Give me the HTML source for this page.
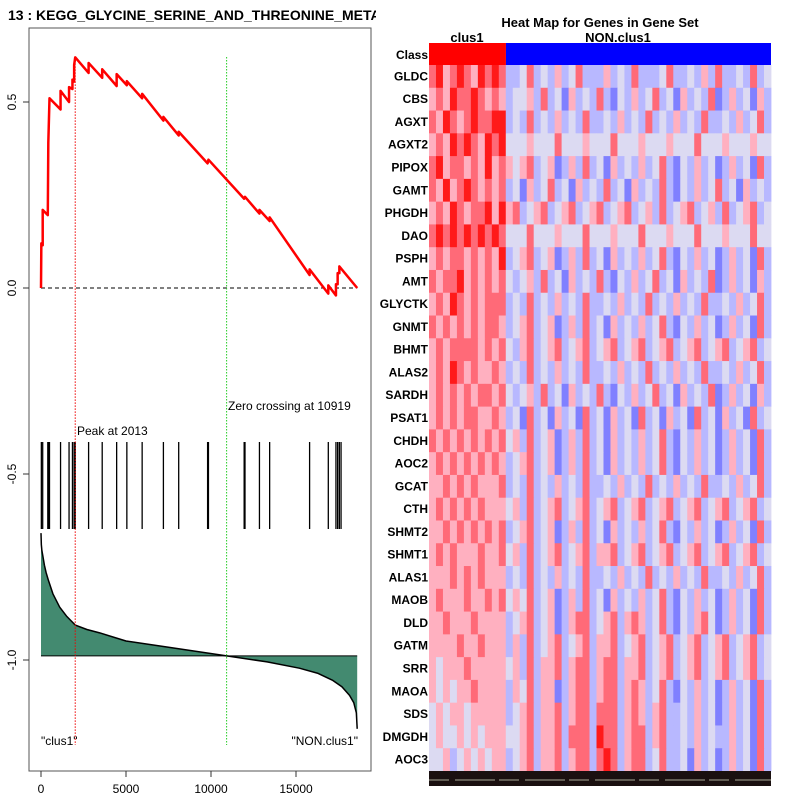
<!DOCTYPE html>
<html><head><meta charset="utf-8">
<style>
html,body{margin:0;padding:0;background:#fff;}
svg{display:block;font-family:"Liberation Sans",sans-serif;}
</style></head><body>
<svg id="chart" width="800" height="800" viewBox="0 0 800 800">
<g id="left"></g>
<g id="right"></g>
<text x="8" y="20" font-size="14" font-weight="bold">13 : KEGG_GLYCINE_SERINE_AND_THREONINE_META</text>
<rect x="376" y="0" width="424" height="40" fill="#fff"/>
<text x="600" y="27" font-size="13" font-weight="bold" text-anchor="middle">Heat Map for Genes in Gene Set</text>
<text x="467" y="42" font-size="13" font-weight="bold" text-anchor="middle">clus1</text>
<text x="618" y="42" font-size="13" font-weight="bold" text-anchor="middle">NON.clus1</text>
</svg>
<script>
// ---- Enrichment data ----
const esX = [0,20,100,100,400,430,500,1150,1150,1650,1650,1850,1850,1950,1950,2013,2800,2800,3600,3600,4450,4450,5050,5050,5950,5950,7200,7200,8100,8100,9800,9850,11950,12000,12850,12850,13450,13450,15800,15800,16900,16900,17350,17350,17450,17450,17550,17550,18600];
const esY = [0,0.12,0.115,0.21,0.196,0.39,0.51,0.48,0.53,0.50,0.54,0.535,0.56,0.555,0.60,0.62,0.578,0.605,0.565,0.588,0.543,0.575,0.545,0.556,0.51,0.522,0.45,0.46,0.41,0.42,0.335,0.345,0.24,0.245,0.20,0.21,0.18,0.19,0.035,0.05,-0.015,0.007,-0.02,0.01,0.01,0.04,0.04,0.058,0];
const hitPositions = [20,100,400,450,500,1150,1650,1850,1950,2013,2800,3600,4450,5050,5950,7200,8100,9800,9850,11950,12000,12850,13450,15800,16900,17350,17450,17550,17650];
const metricX = [0,20,50,100,200,300,430,700,1100,1500,2013,2700,3450,5000,7400,10919,13300,15200,16300,17170,17700,18150,18400,18550,18600];
const metricY = [-0.659,-0.69,-0.705,-0.718,-0.745,-0.765,-0.785,-0.822,-0.858,-0.882,-0.906,-0.918,-0.927,-0.949,-0.965,-0.989,-1.005,-1.022,-1.036,-1.055,-1.072,-1.095,-1.115,-1.142,-1.185];
const metricBase = -0.989;
const xTicks = [0,5000,10000,15000];
const yTicks = [0.0,0.5,-0.5,-1.0];
const peakPos = 2013, zeroCross = 10919;

const NS='http://www.w3.org/2000/svg';
function mk(tag,attrs,parent){const e=document.createElementNS(NS,tag);for(const k in attrs)e.setAttribute(k,attrs[k]);parent.appendChild(e);return e;}
const X = v => 41 + v*0.017;
const Y = v => 288 - v*372;
const L = document.getElementById('left');

let d='M'+X(metricX[0])+','+Y(metricBase);
metricX.forEach((x,i)=>{d+=' L'+X(x)+','+Y(metricY[i]);});
d+=' L'+X(metricX[metricX.length-1])+','+Y(metricBase)+' Z';
let e=mk('path',{d:d,fill:'#438a70',stroke:'none'},L);


let d2='M'+metricX.map((x,i)=>X(x)+','+Y(metricY[i])).join(' L');
e=mk('path',{d:d2,fill:'none',stroke:'#000','stroke-width':1.5,'stroke-linejoin':'round'},L);


e=mk('line',{x1:X(0),x2:X(18600),y1:Y(metricBase),y2:Y(metricBase),stroke:'#000','stroke-width':1},L);



hitPositions.forEach(p=>{
  const h=mk('line',{x1:X(p),x2:X(p),y1:442,y2:529,stroke:'#000','stroke-width':1.3},L);
  
  
});

e=mk('line',{x1:X(0),x2:X(18600),y1:Y(0),y2:Y(0),stroke:'#000','stroke-width':1,'stroke-dasharray':'4,3'},L);


e=mk('line',{x1:X(peakPos),x2:X(peakPos),y1:Y(0.62),y2:745,stroke:'#e00','stroke-width':1,'stroke-dasharray':'1.5,1.5'},L);


e=mk('line',{x1:X(zeroCross),x2:X(zeroCross),y1:57,y2:745,stroke:'#2c2','stroke-width':1,'stroke-dasharray':'1.5,1.5'},L);



e=mk('path',{d:'M'+esX.map((x,i)=>X(x)+','+Y(esY[i])).join(' L'),fill:'none',stroke:'#f00','stroke-width':2.5,'stroke-linejoin':'round'},L);



e=mk('rect',{x:29,y:28,width:342,height:743,fill:'none',stroke:'#555','stroke-width':1},L);



xTicks.forEach(t=>{
  const l=mk('line',{x1:X(t),x2:X(t),y1:771,y2:777,stroke:'#333'},L);
  
  
  const tx=mk('text',{x:X(t),y:793,'font-size':12,'text-anchor':'middle'},L);
  tx.textContent=t;
  
  
});
yTicks.forEach(t=>{
  const l=mk('line',{x1:23,x2:29,y1:Y(t),y2:Y(t),stroke:'#333'},L);
  
  
  const tx=mk('text',{x:0,y:0,'font-size':12,'text-anchor':'middle',transform:'translate(16,'+Y(t)+') rotate(-90)'},L);
  tx.textContent=t.toFixed(1);
  
  
});
function txt(s,x,y,anchor,name){const t=mk('text',{x:x,y:y,'font-size':12,'text-anchor':anchor},L);t.textContent=s;}
txt('Peak at 2013',77,435,'start','peak-label');
txt('Zero crossing at 10919',228,410,'start','zero-crossing-label');
txt('"clus1"',41,745,'start','clus1-end-label');
txt('"NON.clus1"',358,745,'end','non-clus1-end-label');

// ---- Heatmap data ----
const genes = ['GLDC','CBS','AGXT','AGXT2','PIPOX','GAMT','PHGDH','DAO','PSPH','AMT','GLYCTK','GNMT','BHMT','ALAS2','SARDH','PSAT1','CHDH','AOC2','GCAT','CTH','SHMT2','SHMT1','ALAS1','MAOB','DLD','GATM','SRR','MAOA','SDS','DMGDH','AOC3'];
const cells = [
 "5645654656522352324235222423252223522324252232523",
 "4546556545423342523142325213242352314232512423142",
 "5465456556623252324232522324232523242325223242352",
 "4546565465633343335333433353334333433353334333433",
 "5645545464543452341242523142324235213242312423152",
 "5464565454523142352314232523142325213242352314232",
 "4546545564645234523452345234523425234523425234523",
 "5656565656533353334333533343335333433353334333533",
 "4545545454623452341242523142324235213242312423152",
 "5455645454532342523142325213242352314232512423142",
 "4546545455523252324232522324232523242325223242352",
 "5454545455423452341242523142324235213242312423152",
 "4545555454532452345234523452345234523452345234523",
 "4546545445423252324232522324232523242325223242352",
 "4545454554532342523142325213242352314232512423142",
 "4545455445423152314231523142315231423152314231523",
 "5454545454534252341242523142324235213242312423152",
 "4545454545423452341242523142324235213242312423152",
 "4454545444523252324232522324232523242325223242352",
 "4545454544434252345234523452345234523452345234523",
 "4454545454523452341242523142324235213242312423152",
 "4545444544534252345234524452345234523452345234523",
 "4445454544423252324232522324232523242325223242352",
 "4544454454534352341242523142324235213242312423152",
 "4454445444423452341245523452454235213245312423152",
 "4444544544424252345234524452345234523452345234523",
 "4344454444434252445245524552445234523452345234523",
 "4343445444424352441245524552454235213242312423152",
 "3434434444423452445245525552454245223242312423152",
 "3433434344433452445255526552455245223242322423152",
 "3342343434423452445245525652455235223142312423152"
];
const palette = ['#1a1aff','#8080ff','#b8b8ff','#dcdaf2','#ffb0c0','#ff6a78','#ff1a1a'];
const R = document.getElementById('right');
const hx0=429, hx1=771, hy0=43, classH=22, rowH=(771-65)/31;
e=mk('rect',{x:hx0,y:hy0,width:(hx1-hx0)*0.225,height:classH,fill:'#f00'},R);


e=mk('rect',{x:hx0+(hx1-hx0)*0.225,y:hy0,width:(hx1-hx0)*0.775,height:classH,fill:'#00f'},R);


e=mk('text',{x:428,y:hy0+16,'font-size':12,'font-weight':'bold','text-anchor':'end'},R);
e.textContent='Class';


genes.forEach((g,i)=>{
  const y=65+i*rowH;
  const s=cells[i]; const w=(hx1-hx0)/s.length;
  for(let j=0;j<s.length;j++){
    const c=mk('rect',{x:hx0+j*w,y:y,width:w+0.4,height:rowH+0.4,fill:palette[+s[j]]},R);
    
    
  }
  const t=mk('text',{x:428,y:y+rowH/2+4,'font-size':12,'font-weight':'bold','text-anchor':'end'},R);
  t.textContent=g;
  
  
});
e=mk('rect',{x:hx0,y:771,width:hx1-hx0,height:15,fill:'#1a1010'},R);


e=mk('line',{x1:hx0,x2:hx1,y1:780,y2:780,stroke:'#aa9',"stroke-width":1,"stroke-dasharray":"20,6,40,4"},R);


</script>
</body></html>
